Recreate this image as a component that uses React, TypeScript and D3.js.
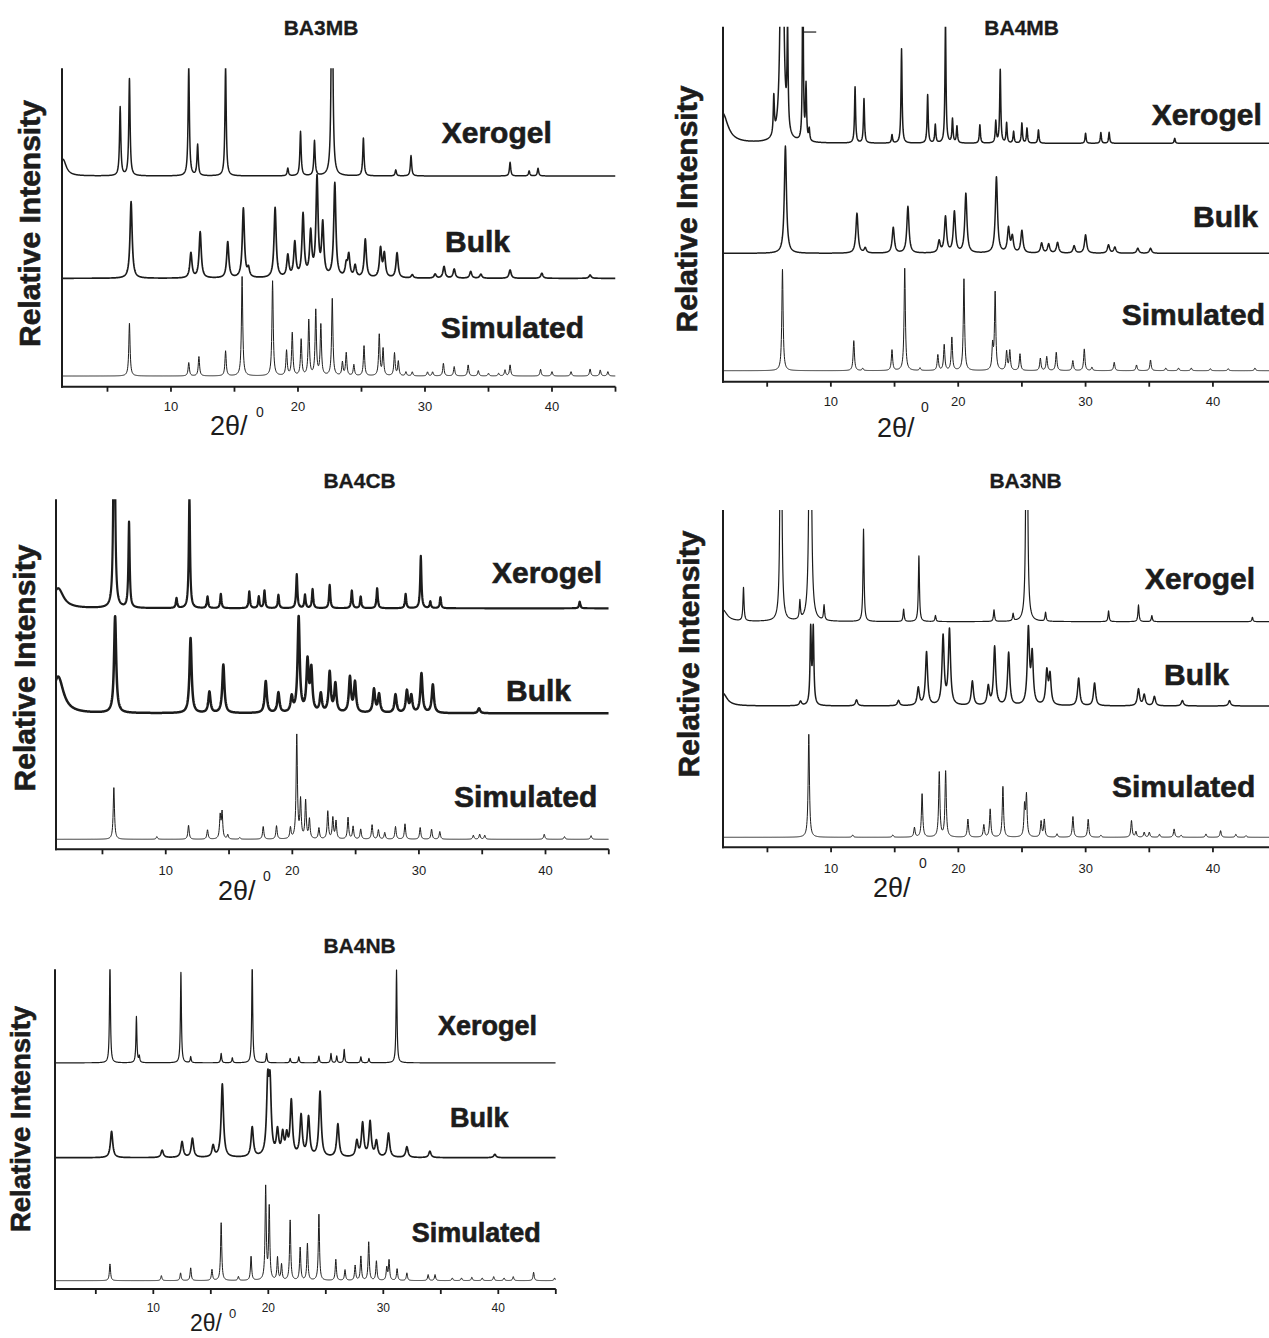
import React from 'react';
import * as d3 from 'd3';

// [2θ position, peak height, optional half width]; heights in arbitrary units above each trace's baseline
type Peak = [number, number, number?];

// ---- BA3MB ----
const ba3mbXerogel: Peak[] = [
  [1.5, 50, 0.3], [6.0, 206], [6.73, 291], [11.4, 330], [12.1, 93], [14.3, 330], [19.2, 23], [20.2, 133],
  [21.3, 105], [22.68, 900], [25.15, 113], [27.7, 18], [28.9, 61], [36.7, 41], [38.2, 15], [38.9, 23],
];
const ba3mbBulk: Peak[] = [
  [6.86, 230], [11.57, 75], [12.3, 138], [14.47, 108], [15.7, 208], [16.1, 25], [18.2, 210], [19.2, 65],
  [19.75, 103], [20.4, 187], [21.0, 130], [21.5, 295], [21.95, 155], [22.9, 282], [23.8, 35], [24.0, 65],
  [24.5, 35], [25.3, 115], [26.5, 87], [26.8, 70], [27.8, 75], [29.0, 10], [30.8, 12], [31.5, 35],
  [32.3, 27], [33.6, 20], [34.4, 12], [36.7, 25], [39.2, 15], [43.0, 10],
];
const ba3mbSimulated: Peak[] = [
  [6.73, 158], [11.4, 40], [12.2, 58], [14.3, 75], [15.6, 298], [18.0, 285], [19.1, 75], [19.55, 128],
  [20.25, 108], [20.85, 166], [21.4, 195], [21.8, 151], [22.7, 231], [23.5, 40], [23.8, 68], [24.4, 33],
  [25.2, 90], [26.4, 123], [26.7, 80], [27.6, 68], [27.9, 43], [28.5, 12], [29.0, 12], [30.2, 12],
  [30.6, 12], [31.45, 38], [32.3, 28], [33.4, 33], [34.2, 16], [35.0, 8], [35.8, 8], [36.3, 18],
  [36.7, 33], [39.1, 20], [40.0, 13], [41.5, 13], [43.0, 21], [43.8, 18], [44.4, 13],
];
const ba3mbOffsets = [632, 325, 32];

// ---- BA4MB ----
const ba4mbXerogel: Peak[] = [
  [1.5, 90, 0.5], [5.52, 115], [6.16, 1360, 0.1], [6.6, 300], [7.8, 600, 0.04], [8.05, 165], [8.3, 35],
  [11.9, 168], [12.6, 133], [14.8, 25], [15.55, 283], [17.6, 145], [18.2, 55], [19.0, 360], [19.55, 72],
  [19.9, 50], [21.7, 55], [22.95, 65], [23.3, 220], [23.8, 60], [24.35, 35], [25.0, 60], [25.4, 45],
  [26.3, 40], [30.0, 30], [31.2, 32], [31.85, 33], [37.0, 15],
];
const ba4mbBulk: Peak[] = [
  [6.43, 322], [12.05, 120], [12.7, 15], [14.9, 77], [16.05, 140], [18.5, 35], [19.0, 108], [19.7, 123],
  [20.6, 178], [23.0, 228], [23.95, 73], [24.25, 47], [25.0, 67], [26.55, 30], [27.1, 27], [27.8, 32],
  [29.1, 22], [30.0, 55], [31.8, 25], [32.3, 18], [34.1, 15], [35.1, 15],
];
const ba4mbSimulated: Peak[] = [
  [6.2, 304], [11.8, 90], [12.5, 7], [14.8, 62], [15.8, 307], [17.0, 8], [18.4, 47], [18.9, 77], [19.5, 99],
  [20.45, 275], [22.7, 72], [22.9, 232], [23.8, 57], [24.05, 59], [24.85, 50], [26.45, 37], [26.95, 42],
  [27.7, 55], [29.0, 30], [29.9, 65], [30.5, 10], [32.25, 25], [34.0, 17], [35.1, 32], [36.3, 8],
  [37.3, 8], [38.3, 8], [39.8, 6], [41.2, 6], [43.3, 8],
];
const ba4mbOffsets = [715, 385, 33];

// ---- BA4CB ----
const ba4cbXerogel: Peak[] = [
  [1.5, 60, 0.5], [5.93, 1000], [7.1, 257], [10.85, 30], [11.87, 340], [13.3, 35], [14.35, 43], [16.6, 50],
  [17.35, 35], [17.8, 53], [18.9, 40], [20.35, 102], [21.0, 40], [21.6, 57], [22.95, 70], [24.7, 53],
  [25.4, 35], [26.7, 60], [28.95, 43], [30.15, 157], [30.9, 20], [31.7, 33], [42.7, 20],
];
const ba4cbBulk: Peak[] = [
  [1.5, 110, 0.5], [6.0, 290], [11.96, 225], [13.45, 63], [14.55, 145], [17.9, 95], [18.9, 60], [19.95, 45],
  [20.5, 285], [21.2, 150], [21.5, 125], [22.25, 55], [22.95, 120], [23.4, 85], [24.55, 105], [24.95, 90],
  [26.45, 70], [26.85, 55], [28.15, 55], [29.05, 65], [29.4, 50], [30.2, 118], [31.1, 85], [34.75, 15],
];
const ba4cbSimulated: Peak[] = [
  [5.9, 155], [9.3, 8], [11.8, 42], [13.3, 28], [14.3, 68], [14.45, 78], [14.9, 13], [15.85, 5], [17.7, 38],
  [18.75, 40], [19.85, 33], [20.35, 310], [20.65, 113], [21.05, 113], [21.35, 58], [22.1, 33], [22.8, 83],
  [23.2, 63], [23.45, 53], [24.4, 65], [24.8, 38], [25.4, 30], [26.3, 43], [26.8, 28], [27.3, 20],
  [28.15, 38], [28.9, 46], [30.1, 35], [31.0, 30], [31.65, 23], [34.3, 12], [34.8, 15], [35.2, 12],
  [39.9, 15], [41.5, 8], [43.6, 11],
];
const ba4cbOffsets = [723, 408, 30];

// ---- BA3NB ----
const ba3nbXerogel: Peak[] = [
  [1.5, 35, 0.4], [3.12, 100], [6.06, 1540], [7.55, 55], [8.36, 2600], [9.45, 45], [12.55, 277], [15.7, 37],
  [16.9, 197], [18.2, 18], [22.8, 35], [24.3, 22], [25.37, 1540], [26.85, 27], [31.8, 32], [34.15, 50],
  [35.2, 18], [43.1, 13],
];
const ba3nbBulk: Peak[] = [
  [1.5, 38, 0.4], [7.6, 13], [8.4, 226, 0.06], [8.6, 226, 0.06], [12.0, 18], [15.3, 16], [16.85, 53],
  [17.5, 160], [18.8, 206], [19.3, 225], [21.1, 73], [22.35, 56], [22.85, 176], [23.95, 158], [25.5, 225],
  [25.8, 148], [26.95, 100], [27.2, 88], [29.45, 83], [30.7, 68], [34.15, 50], [34.6, 33], [35.4, 28],
  [37.6, 16], [41.3, 16],
];
const ba3nbSimulated: Peak[] = [
  [8.25, 309], [11.7, 7], [14.85, 7], [16.55, 29], [17.15, 130], [18.5, 194], [19.0, 197], [20.75, 54],
  [22.0, 37], [22.5, 84], [23.5, 152], [25.2, 90], [25.35, 122], [26.5, 47], [26.75, 52], [27.75, 10],
  [29.0, 62], [30.2, 54], [31.2, 6], [33.6, 50], [33.95, 17], [34.6, 15], [35.0, 15], [35.8, 9],
  [36.95, 25], [37.5, 6], [39.45, 10], [40.6, 20], [41.8, 9], [42.6, 5],
];
const ba3nbOffsets = [677, 424, 30];

// ---- BA4NB ----
const ba4nbXerogel: Peak[] = [
  [6.23, 300], [8.53, 138], [8.78, 18], [12.4, 271], [13.25, 18], [15.9, 28], [16.87, 15], [18.6, 300],
  [19.85, 28], [21.9, 13], [22.65, 18], [24.4, 20], [25.45, 28], [25.95, 20], [26.6, 40], [28.05, 18],
  [28.75, 13], [31.15, 278],
];
const ba4nbBulk: Peak[] = [
  [6.37, 79], [10.77, 22], [12.5, 47], [13.4, 57], [15.2, 34], [16.0, 219], [18.6, 89], [19.95, 205],
  [20.15, 200], [20.8, 74], [21.25, 64], [21.6, 57], [22.0, 164], [22.85, 122], [23.5, 117], [24.5, 195],
  [26.05, 99], [27.7, 47], [28.2, 100], [28.85, 105], [29.4, 47], [30.45, 72], [32.05, 32], [34.05, 19],
  [39.7, 10],
];
const ba4nbSimulated: Peak[] = [
  [6.23, 50], [10.7, 15], [12.37, 23], [13.25, 38], [15.1, 33], [15.9, 173], [17.4, 12], [18.5, 72],
  [19.77, 278], [20.08, 217], [20.8, 68], [21.15, 47], [21.9, 180], [22.77, 98], [23.4, 110], [24.4, 198],
  [25.87, 63], [26.67, 32], [27.55, 45], [28.05, 72], [28.73, 115], [29.4, 58], [30.3, 38], [30.5, 60],
  [31.2, 35], [32.05, 23], [33.9, 18], [34.5, 18], [36.0, 8], [36.8, 8], [37.7, 10], [38.6, 8], [39.6, 12],
  [40.5, 8], [41.3, 12], [43.07, 25], [44.9, 8],
];
const ba4nbOffsets = [677, 393, 25];

const seriesNames = ['Xerogel', 'Bulk', 'Simulated'];
const tickValues = [5, 10, 15, 20, 25, 30, 35, 40, 45];
const tickLabels = [10, 20, 30, 40];
const X_MAX = 45;

const FONT = '"Liberation Sans", Arial, Helvetica, sans-serif';
const INK = '#1c1c1c';

// layout of each panel (pixels)
const panels = [
  {
    title: 'BA3MB', x0: 1.42, left: 62, right: 615.5, top: 68.3, bottom: 386.7, yMax: 955,
    data: [ba3mbXerogel, ba3mbBulk, ba3mbSimulated], offsets: ba3mbOffsets, widths: [0.06, 0.1, 0.06],
    strokes: [1.5, 1.7, 1], titleX: 321, titleY: 35,
    labels: [[441.7, 143], [445, 252], [440.7, 338]], labelSize: 30,
    tickY: 411, tickSize: 13, xtX: 210, xtY: 435, xtSize: 27, supX: 256, supY: 417, supSize: 14,
    ytX: 40, ytY: 223.5, ytSize: 30,
  },
  {
    title: 'BA4MB', x0: 1.53, left: 723, right: 1276.6, top: 26.7, bottom: 381.7, yMax: 1065,
    data: [ba4mbXerogel, ba4mbBulk, ba4mbSimulated], offsets: ba4mbOffsets, widths: [0.05, 0.1, 0.06],
    strokes: [1.5, 1.5, 1], titleX: 1021.7, titleY: 35,
    labels: [[1151.7, 125], [1193, 226.7], [1121.7, 325]], labelSize: 30,
    tickY: 406, tickSize: 13, xtX: 877, xtY: 437, xtSize: 27, supX: 921, supY: 412, supSize: 14,
    ytX: 697, ytY: 209, ytSize: 30,
  },
  {
    title: 'BA4CB', x0: 1.33, left: 56, right: 608.8, top: 499.3, bottom: 849.3, yMax: 1050,
    data: [ba4cbXerogel, ba4cbBulk, ba4cbSimulated], offsets: ba4cbOffsets, widths: [0.06, 0.1, 0.06],
    strokes: [2.2, 2.5, 1], titleX: 359.6, titleY: 488,
    labels: [[492, 582.7], [506, 700.7], [454, 806.7]], labelSize: 30,
    tickY: 875, tickSize: 13, xtX: 218, xtY: 900, xtSize: 27, supX: 263, supY: 881, supSize: 14,
    ytX: 35, ytY: 668, ytSize: 30,
  },
  {
    title: 'BA3NB', x0: 1.51, left: 723, right: 1276.6, top: 510, bottom: 847.3, yMax: 1012,
    data: [ba3nbXerogel, ba3nbBulk, ba3nbSimulated], offsets: ba3nbOffsets, widths: [0.05, 0.1, 0.06],
    strokes: [1.2, 1.5, 1], titleX: 1025.6, titleY: 488,
    labels: [[1145, 589.3], [1164, 685], [1112, 796.7]], labelSize: 30,
    tickY: 873, tickSize: 13, xtX: 873, xtY: 897, xtSize: 27, supX: 919, supY: 868, supSize: 14,
    ytX: 699, ytY: 654, ytSize: 30,
  },
  {
    title: 'BA4NB', x0: 1.45, left: 55, right: 555.8, top: 969.3, bottom: 1289, yMax: 957,
    data: [ba4nbXerogel, ba4nbBulk, ba4nbSimulated], offsets: ba4nbOffsets, widths: [0.05, 0.12, 0.06],
    strokes: [1.2, 1.7, 1], titleX: 359.6, titleY: 953,
    labels: [[438, 1035], [450, 1126.7], [411.7, 1241.7]], labelSize: 27,
    tickY: 1312, tickSize: 12, xtX: 190, xtY: 1331, xtSize: 23, supX: 229, supY: 1318, supSize: 13,
    ytX: 30, ytY: 1119, ytSize: 27.5,
  },
];

// sum of peak profiles on the 2θ grid, lifted by the trace's baseline
function trace(peaks: Peak[], offset: number, w: number, x0: number): [number, number][] {
  const grid = d3.range(x0, X_MAX + 1e-6, 0.02).concat(peaks.map(p => p[0]).filter(p => p >= x0));
  grid.sort((a, b) => a - b);
  return grid.map(x => {
    let y = offset;
    for (const [p, h, pw] of peaks) {
      const d = (x - p) / (pw ?? w);
      y += h / (1 + d * d);
    }
    return [x, y];
  });
}

const Panel = ({ cfg, idx }: { cfg: typeof panels[number]; idx: number }) => {
  const x = d3.scaleLinear().domain([cfg.x0, X_MAX]).range([cfg.left, cfg.right]);
  const y = d3.scaleLinear().domain([0, cfg.yMax]).range([cfg.bottom, cfg.top]);
  const line = d3.line<[number, number]>().x(d => x(d[0])).y(d => y(d[1]));
  const clipId = `clip-${idx}`;
  const boldText = { fontFamily: FONT, fontWeight: 'bold' as const, fill: INK, stroke: INK, strokeWidth: 0.6 };

  return (
    <g>
      <defs>
        <clipPath id={clipId}>
          <rect x={cfg.left} y={cfg.top} width={cfg.right - cfg.left} height={cfg.bottom - cfg.top} />
        </clipPath>
      </defs>
      <text x={cfg.titleX} y={cfg.titleY} textAnchor="middle" {...boldText} strokeWidth={0.3}
        fontSize={21}>{cfg.title}</text>

      <g clipPath={`url(#${clipId})`}>
        {cfg.data.map((peaks, i) => (
          <path key={i} d={line(trace(peaks, cfg.offsets[i], cfg.widths[i], cfg.x0)) || ''}
            fill="none" stroke={INK} strokeWidth={cfg.strokes[i]} strokeLinejoin="round" />
        ))}
      </g>

      {/* axes */}
      <line x1={cfg.left} x2={cfg.left} y1={cfg.top} y2={cfg.bottom + 1} stroke={INK} strokeWidth={2} />
      <line x1={cfg.left - 1} x2={Math.min(cfg.right, 1269)} y1={cfg.bottom} y2={cfg.bottom}
        stroke={INK} strokeWidth={2} />
      {tickValues.filter(t => t > cfg.x0).map(t => (
        <line key={t} x1={x(t)} x2={x(t)} y1={cfg.bottom} y2={cfg.bottom + 5} stroke={INK} strokeWidth={1.8} />
      ))}
      {tickLabels.map(t => (
        <text key={t} x={x(t)} y={cfg.tickY} textAnchor="middle" fontFamily={FONT} fontSize={cfg.tickSize}
          fill={INK}>{t}</text>
      ))}

      {/* axis titles */}
      <text x={cfg.xtX} y={cfg.xtY} fontFamily={FONT} fontSize={cfg.xtSize} fill={INK}>2θ/</text>
      <text x={cfg.supX} y={cfg.supY} fontFamily={FONT} fontSize={cfg.supSize} fill={INK}>0</text>
      <text transform={`translate(${cfg.ytX},${cfg.ytY}) rotate(-90)`} textAnchor="middle"
        {...boldText} fontSize={cfg.ytSize}>Relative Intensity</text>

      {/* series labels */}
      {seriesNames.map((name, i) => (
        <text key={name} x={cfg.labels[i][0]} y={cfg.labels[i][1]} {...boldText}
          fontSize={cfg.labelSize}>{name}</text>
      ))}

      {idx === 1 && (
        <line x1={x(7.8)} x2={x(8.85)} y1={y(cfg.yMax - 16)} y2={y(cfg.yMax - 16)} stroke={INK} strokeWidth={1.2} />
      )}
    </g>
  );
};

export default function App() {
  return (
    <svg width={1269} height={1338} viewBox="0 0 1269 1338"
      style={{ position: 'absolute', left: 0, top: 0, background: '#fff' }}>
      <rect width={1269} height={1338} fill="#fff" />
      {panels.map((p, i) => <Panel key={p.title} cfg={p} idx={i} />)}
    </svg>
  );
}
